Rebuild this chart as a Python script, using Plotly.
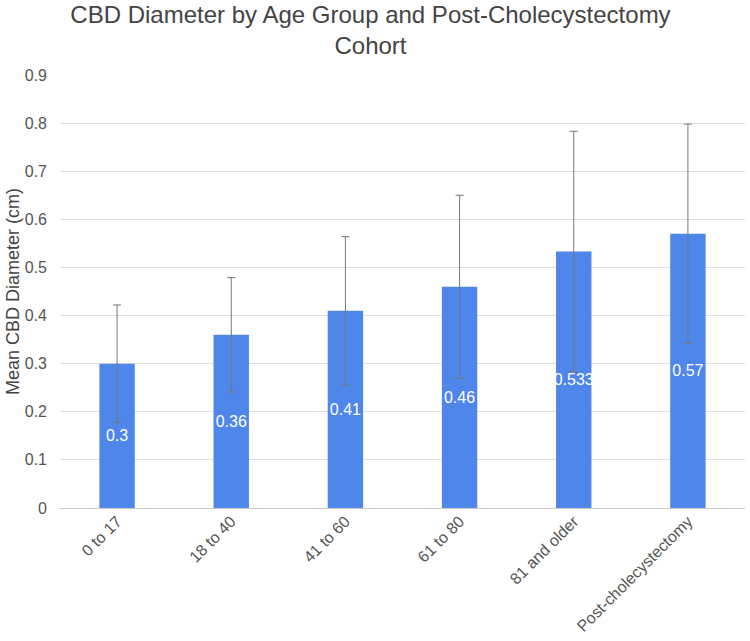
import plotly.graph_objects as go

categories = ["0 to 17", "18 to 40", "41 to 60", "61 to 80", "81 and older", "Post-cholecystectomy"]
means = [0.3, 0.36, 0.41, 0.46, 0.533, 0.57]
sd = [0.122, 0.119, 0.154, 0.19, 0.25, 0.228]
value_labels = ["0.3", "0.36", "0.41", "0.46", "0.533", "0.57"]
y_ticks = [0, 0.1, 0.2, 0.3, 0.4, 0.5, 0.6, 0.7, 0.8, 0.9]
y_tick_labels = ["0", "0.1", "0.2", "0.3", "0.4", "0.5", "0.6", "0.7", "0.8", "0.9"]

font_family = "Liberation Sans, Arial, sans-serif"

fig = go.Figure(
    go.Bar(
        x=categories,
        y=means,
        marker=dict(color="#4f86ea", line=dict(width=0)),
        text=value_labels,
        textposition="inside",
        insidetextanchor="middle",
        textangle=0,
        constraintext="none",
        textfont=dict(color="white", size=16, family=font_family),
        error_y=dict(type="data", array=sd, visible=True, color="#777777", thickness=1, width=4),
        cliponaxis=False,
    )
)

fig.update_layout(
    width=750,
    height=641,
    paper_bgcolor="white",
    plot_bgcolor="white",
    margin=dict(l=60, r=5, t=75, b=133, autoexpand=False),
    bargap=0.69,
    showlegend=False,
    title=dict(
        text="CBD Diameter by Age Group and Post-Cholecystectomy<br>Cohort",
        x=0.494,
        xanchor="center",
        yref="container",
        y=0.964,
        yanchor="middle",
        automargin=False,
        font=dict(size=24, color="#444444", family=font_family),
    ),
    font=dict(family=font_family),
)

fig.update_yaxes(
    range=[0, 0.9],
    tickvals=y_ticks,
    ticktext=y_tick_labels,
    showgrid=True,
    gridcolor="#e0e0e0",
    gridwidth=1,
    zeroline=True,
    zerolinecolor="#cccccc",
    zerolinewidth=1,
    showline=False,
    automargin=False,
    tickfont=dict(size=16, color="#555555"),
    ticks="",
    ticklabelstandoff=12,
    title=dict(text="Mean CBD Diameter (cm)", font=dict(size=18, color="#444444"), standoff=0),
)

fig.update_xaxes(
    tickangle=-45,
    automargin=False,
    tickfont=dict(size=16, color="#555555"),
    showline=False,
    showgrid=False,
    ticks="",
)

fig.write_html(
    "out.html",
    config={"displayModeBar": False},
    post_script="document.body.style.margin='0';document.body.style.padding='0';",
)
